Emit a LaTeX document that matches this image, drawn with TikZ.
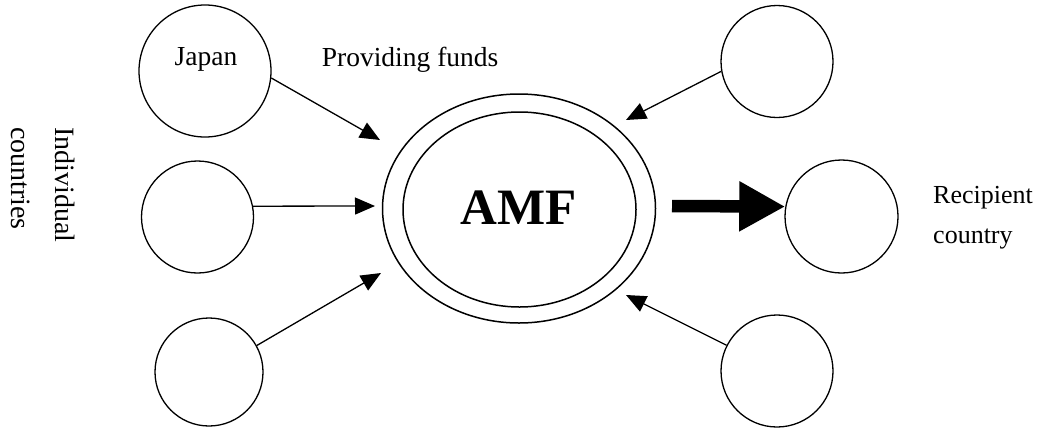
\documentclass[tikz,border=0pt]{standalone}
\usepackage{fontspec}
\setmainfont{Liberation Serif}
\usetikzlibrary{arrows.meta,shapes.geometric}
\begin{document}
\begin{tikzpicture}[x=1pt,y=-1pt,
  country/.style={draw, circle, line width=1.3pt, inner sep=0pt},
  ring/.style={draw, ellipse, line width=1.5pt, inner sep=0pt},
  feed/.style={line width=1.3pt, -{Triangle[length=20pt,width=17pt]}},
  lbl/.style={font=\fontsize{27.5}{33}\selectfont, inner sep=0pt},
  bigarrow/.style={line width=12.5pt, -{Triangle[length=46pt,width=47pt]}}]
\useasboundingbox (0,0) rectangle (1048,434);
% country circles
\node[country, minimum size=132pt] (japan) at (205,71) {};
\node[country, minimum size=112pt] (ml) at (197.5,217) {};
\node[country, minimum size=108pt] (bl) at (209,372) {};
\node[country, minimum size=112pt] (tr) at (777,61.5) {};
\node[country, minimum size=113pt] (recip) at (841.5,216.5) {};
\node[country, minimum size=112pt] (br) at (777,371) {};
% AMF
\node[ring, minimum width=273pt, minimum height=229pt] (amf) at (519,208.5) {};
\node[ring, minimum width=233pt, minimum height=195pt] (amfin) at (519.5,209.5) {};
\node[anchor=base, inner sep=0pt, font=\fontsize{51}{60}\selectfont\bfseries] (amftext) at (519,224) {AMF};
% labels
\node[lbl, anchor=base] (japantext) at (206,65) {Japan};
\node[lbl, anchor=base west] (provide) at (321.7,66) {Providing funds};
\node[lbl, anchor=base west, font=\fontsize{26}{31}\selectfont] (rec1) at (933,203) {Recipient};
\node[lbl, anchor=base west, font=\fontsize{26}{31}\selectfont] (rec2) at (933,243) {country};
\node[lbl, anchor=base west, rotate=-90, font=\fontsize{28}{33}\selectfont] (ind1) at (55,127) {Individual};
\node[lbl, anchor=base west, rotate=-90, font=\fontsize{28}{33}\selectfont] (ind2) at (12,127) {countries};
% arrow tips
\coordinate (t1) at (380,140);
\coordinate (t2) at (375,206);
\coordinate (t3) at (381,273);
\coordinate (t4) at (626,120);
\coordinate (t5) at (626,295);
\coordinate (fstart) at (672,206);
% connectors
\draw[feed] (japan.-6) -- (t1);
\draw[feed] (ml.11) -- (t2);
\draw[feed] (bl.29) -- (t3);
\draw[feed] (tr.190) -- (t4);
\draw[feed] (br.153) -- (t5);
\draw[bigarrow] (fstart) -- (recip.170);
\end{tikzpicture}
\end{document}
